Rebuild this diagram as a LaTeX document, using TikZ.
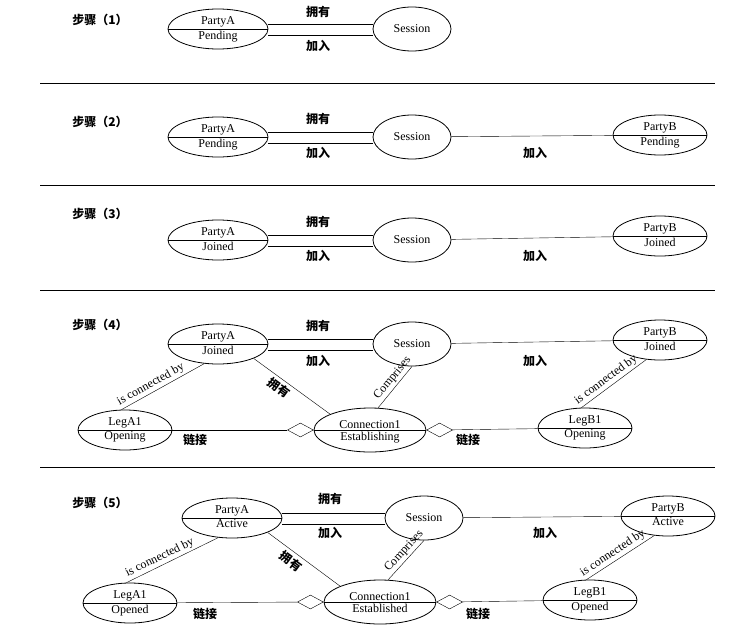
\documentclass[tikz,border=0pt]{standalone}
\usepackage{fontspec}
\setmainfont{Liberation Serif}
\newfontfamily\cjk{Noto Sans CJK SC}
\usetikzlibrary{shapes.geometric,positioning,calc}
\tikzset{
    % Nodes
    state/.style={ellipse,draw,thick,minimum width=100pt,minimum height=40pt,inner sep=0pt},
    sessionnode/.style={ellipse,draw,thick,minimum width=78pt,minimum height=44pt,font=\fontsize{12}{14}\selectfont},
    legnode/.style={state,minimum width=94pt},
    connnode/.style={state,minimum width=112pt,minimum height=44pt},
    aggr/.style={diamond,draw,fill=white,minimum width=26pt,minimum height=14pt,inner sep=0pt},
    steplabel/.style={font=\cjk\bfseries\fontsize{12}{14}\selectfont},
    cnlabel/.style={font=\cjk\bfseries\fontsize{12}{14}\selectfont},
    rolelabel/.style={font=\fontsize{12}{14}\selectfont,sloped,above,inner sep=2pt},
    sep/.style={thin}
}
\tikzstyle{every node}=[font=\fontsize{12}{14}\selectfont]
% split state node: name, position, upper text, lower text
\newcommand{\splitstate}[5][state]{%
    \node[#1] (#2) at #3 {};
    \draw (#2.west) -- (#2.east);
    \node[above=1.5pt,inner sep=0pt] at (#2.center) {#4};
    \node[below=1.5pt,inner sep=0pt] at (#2.center) {#5};
}
% double association line
\newcommand{\dualline}[2]{%
    \draw ([yshift=5pt]#1.east) -- ([yshift=5pt]#2.west);
    \draw ([yshift=-6pt]#1.east) -- ([yshift=-6pt]#2.west);
}
\begin{document}
\begin{tikzpicture}[x=1pt,y=-1pt]
    \useasboundingbox (0,0) rectangle (746,626);
    \foreach \y in {83,185,290,467}
        \draw[sep] (40,\y) -- (715,\y);

    % step 1
    \node[steplabel] (s1) at (100,20) {步骤（1）};
    \splitstate{pa1}{(218,29)}{PartyA}{Pending}
    \node[sessionnode] (se1) at (412,29) {Session};
    \dualline{pa1}{se1}
    \node[cnlabel] at (318,12) {拥有};
    \node[cnlabel] at (318,46) {加入};

    % step 2
    \node[steplabel] (s2) at (100,122) {步骤（2）};
    \splitstate{pa2}{(218,137)}{PartyA}{Pending}
    \node[sessionnode] (se2) at (412,137) {Session};
    \splitstate[legnode]{pb2}{(660,135)}{PartyB}{Pending}
    \dualline{pa2}{se2}
    \draw (se2) -- (pb2);
    \node[cnlabel] at (318,119) {拥有};
    \node[cnlabel] at (318,153) {加入};
    \node[cnlabel] at (535,153) {加入};

    % step 3
    \node[steplabel] (s3) at (100,214) {步骤（3）};
    \splitstate{pa3}{(218,240)}{PartyA}{Joined}
    \node[sessionnode] (se3) at (412,240) {Session};
    \splitstate[legnode]{pb3}{(660,236)}{PartyB}{Joined}
    \dualline{pa3}{se3}
    \draw (se3) -- (pb3);
    \node[cnlabel] at (318,222) {拥有};
    \node[cnlabel] at (318,256) {加入};
    \node[cnlabel] at (535,256) {加入};

    % step 4
    \node[steplabel] (s4) at (100,325) {步骤（4）};
    \splitstate{pa4}{(218,344)}{PartyA}{Joined}
    \node[sessionnode] (se4) at (412,344) {Session};
    \splitstate[legnode]{pb4}{(660,340)}{PartyB}{Joined}
    \splitstate[legnode]{la4}{(125,430)}{LegA1}{Opening}
    \splitstate[connnode]{co4}{(370,430)}{Connection1}{Establishing}
    \splitstate[legnode]{lb4}{(585,428)}{LegB1}{Opening}
    \node[aggr,anchor=east] (da4) at (co4.west) {};
    \node[aggr,anchor=west] (db4) at (co4.east) {};
    \dualline{pa4}{se4}
    \draw (se4) -- (pb4);
    \draw (la4) -- (da4);
    \draw (db4) -- (lb4);
    \draw (la4.100) -- node[rolelabel,pos=.4] {is connected by} (pa4.235);
    \draw (pa4.south east) -- node[cnlabel,sloped,below,pos=.4] {拥有} (co4.north west);
    \draw (co4.70) -- node[rolelabel,pos=.6] {Comprises} (se4.south);
    \draw (lb4.100) -- node[rolelabel,pos=.45] {is connected by} (pb4.235);
    \node[cnlabel] at (318,326) {拥有};
    \node[cnlabel] at (318,361) {加入};
    \node[cnlabel] at (535,361) {加入};
    \node[cnlabel] at (195,440) {链接};
    \node[cnlabel] at (468,440) {链接};

    % step 5
    \node[steplabel] (s5) at (100,503) {步骤（5）};
    \splitstate{pa5}{(232,518)}{PartyA}{Active}
    \node[sessionnode] (se5) at (424,518) {Session};
    \splitstate[legnode]{pb5}{(668,516)}{PartyB}{Active}
    \splitstate[legnode]{la5}{(130,603)}{LegA1}{Opened}
    \splitstate[connnode]{co5}{(380,602)}{Connection1}{Established}
    \splitstate[legnode]{lb5}{(590,600)}{LegB1}{Opened}
    \node[aggr,anchor=east] (da5) at (co5.west) {};
    \node[aggr,anchor=west] (db5) at (co5.east) {};
    \dualline{pa5}{se5}
    \draw (se5) -- (pb5);
    \draw (la5) -- (da5);
    \draw (db5) -- (lb5);
    \draw (la5.100) -- node[rolelabel,pos=.4] {is connected by} (pa5.235);
    \draw (pa5.south east) -- node[cnlabel,sloped,below,pos=.4] {拥有} (co5.north west);
    \draw (co5.70) -- node[rolelabel,pos=.6] {Comprises} (se5.south);
    \draw (lb5.100) -- node[rolelabel,pos=.45] {is connected by} (pb5.235);
    \node[cnlabel] at (330,499) {拥有};
    \node[cnlabel] at (330,533) {加入};
    \node[cnlabel] at (545,533) {加入};
    \node[cnlabel] at (205,614) {链接};
    \node[cnlabel] at (478,614) {链接};
\end{tikzpicture}
\end{document}
